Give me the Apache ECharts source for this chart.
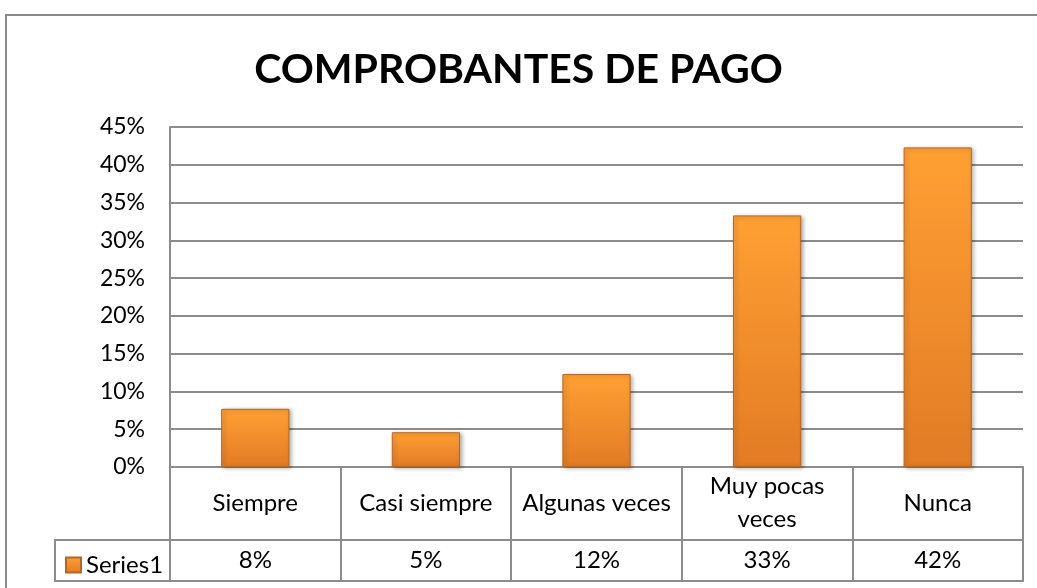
<!DOCTYPE html>
<html>
<head>
<meta charset="utf-8">
<script src="https://cdn.jsdelivr.net/npm/echarts@6/dist/echarts.min.js"></script>
<style>
  html, body { margin: 0; padding: 0; background: #fff; }
  #chart { width: 1037px; height: 588px; }
</style>
</head>
<body>
<div id="chart"></div>
<script>
// data
var categories = ["Siempre", "Casi siempre", "Algunas veces", "Muy pocas\nveces", "Nunca"];
var values = [7.7, 4.6, 12.3, 33.3, 42.3];
var tableLabels = ["8%", "5%", "12%", "33%", "42%"];
var seriesName = "Series1";

var font = "Lato";
var lineGray = "#8c8c8c";

var chart = echarts.init(document.getElementById("chart"));

var barColor = new echarts.graphic.LinearGradient(0, 0, 0, 1, [
  { offset: 0, color: "#ffa033" },
  { offset: 1, color: "#e27b25" }
]);

var option = {
  animation: false,
  title: {
    text: "COMPROBANTES DE PAGO",
    left: "center",
    top: 44,
    textStyle: { fontFamily: font, fontWeight: "bold", fontSize: 41, color: "#000" }
  },
  legend: {
    data: [seriesName],
    left: 60,
    top: 548,
    icon: "rect",
    itemWidth: 15,
    itemHeight: 15,
    itemGap: 6,
    textStyle: { fontFamily: font, fontSize: 24, color: "#000" }
  },
  grid: { left: 170, right: 14, top: 127, bottom: 121 },
  xAxis: [
    {
      type: "category",
      data: categories,
      axisLine: { show: true, lineStyle: { color: lineGray, width: 2 } },
      axisTick: { show: true, length: 114, lineStyle: { color: lineGray, width: 2 } },
      axisLabel: {
        margin: 36, verticalAlign: "middle", lineHeight: 33,
        fontFamily: font, fontSize: 24, color: "#000", interval: 0
      }
    },
    {
      type: "category",
      data: tableLabels,
      position: "bottom",
      offset: 73,
      axisLine: { show: true, lineStyle: { color: lineGray, width: 2 } },
      axisTick: { show: false },
      axisLabel: { margin: 20, verticalAlign: "middle", fontFamily: font, fontSize: 24, color: "#000", interval: 0 }
    },
    {
      type: "category",
      data: tableLabels,
      position: "bottom",
      offset: 114,
      axisLine: { show: true, lineStyle: { color: lineGray, width: 2 } },
      axisTick: { show: false },
      axisLabel: { show: false }
    }
  ],
  yAxis: {
    type: "value",
    min: 0,
    max: 45,
    interval: 5,
    axisLine: { show: true, lineStyle: { color: lineGray, width: 2 } },
    axisTick: { show: false },
    splitLine: { lineStyle: { color: lineGray, width: 2 } },
    axisLabel: { formatter: "{value}%", margin: 25, fontFamily: font, fontSize: 23, color: "#000" }
  },
  series: [
    {
      name: seriesName,
      type: "bar",
      xAxisIndex: 0,
      data: values,
      barWidth: "40%",
      itemStyle: {
        color: barColor,
        borderColor: "#b8661f",
        borderWidth: 1,
        shadowColor: "rgba(0,0,0,0.3)",
        shadowBlur: 4,
        shadowOffsetX: 2,
        shadowOffsetY: 1
      }
    }
  ],
  graphic: [
    // outer chart frame
    { type: "rect", shape: { x: 6, y: 15, width: 1060, height: 600 }, style: { fill: null, stroke: "#8a8a8a", lineWidth: 2 }, silent: true },
    // legend-key cell of the data table
    { type: "rect", shape: { x: 55, y: 540, width: 115, height: 41 }, style: { fill: null, stroke: lineGray, lineWidth: 2 }, silent: true }
  ]
};

chart.setOption(option);
</script>
</body>
</html>
